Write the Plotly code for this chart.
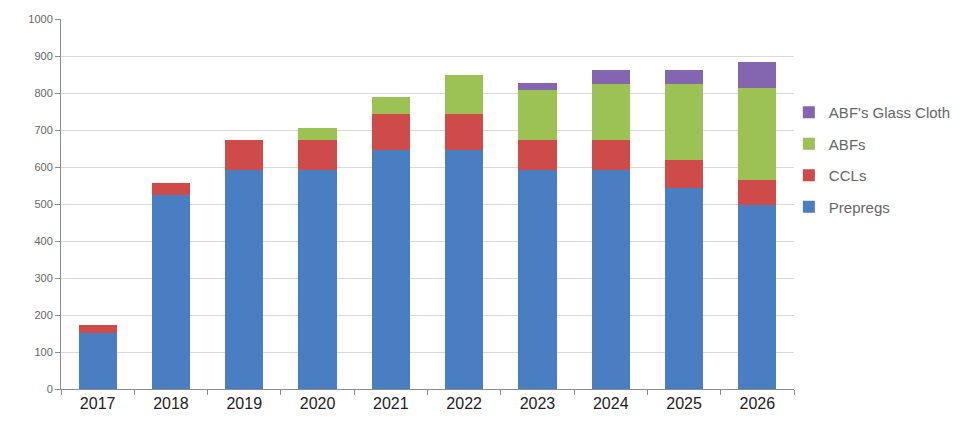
import plotly.graph_objects as go

years = ["2017", "2018", "2019", "2020", "2021", "2022", "2023", "2024", "2025", "2026"]
prepregs = [151, 524, 592, 592, 646, 646, 592, 592, 543, 497]
ccls = [22, 33, 81, 81, 97, 97, 81, 81, 76, 68]
abfs = [0, 0, 0, 32, 46, 105, 135, 151, 205, 249]
glass_cloth = [0, 0, 0, 0, 0, 0, 19, 38, 38, 70]

series_names = ["Prepregs", "CCLs", "ABFs", "ABF's Glass Cloth"]
series_values = [prepregs, ccls, abfs, glass_cloth]
series_colors = ["#4A7EC2", "#CF4B49", "#9BC252", "#8465B0"]
legend_ranks = [4, 3, 2, 1]

y_ticks = list(range(0, 1001, 100))

fig = go.Figure()
for name, vals, col, rk in zip(series_names, series_values, series_colors, legend_ranks):
    fig.add_trace(go.Bar(
        x=years, y=vals, name=name, legendgroup=name, legendrank=rk,
        marker=dict(color=col, line=dict(width=0)),
        width=0.52,
    ))

fig.update_layout(
    barmode="stack",
    width=968, height=422,
    margin=dict(l=61, r=174, t=19, b=33, autoexpand=False),
    paper_bgcolor="white", plot_bgcolor="white",
    font=dict(family="Liberation Sans, Arial, sans-serif", color="#222222"),
    showlegend=True,
    legend=dict(
        x=0.993, xanchor="left", y=0.62, yanchor="middle",
        traceorder="grouped", tracegroupgap=9,
        font=dict(size=15, color="#666666"),
        bgcolor="rgba(0,0,0,0)", itemwidth=30,
    ),
    xaxis=dict(
        type="category", showline=True, linecolor="#8c8c8c", linewidth=1,
        ticks="outside", tickson="boundaries", ticklen=5, tickcolor="#8c8c8c",
        tickfont=dict(size=16, color="#222222"), showgrid=False,
    ),
    yaxis=dict(
        range=[0, 1000], tickvals=y_ticks, showline=True, linecolor="#8c8c8c",
        linewidth=1, ticks="outside", ticklen=5, tickcolor="#8c8c8c",
        gridcolor="#d9d9d9", gridwidth=1, zeroline=False,
        tickfont=dict(size=11, color="#666666"),
    ),
)

fig.write_html("out.html")
